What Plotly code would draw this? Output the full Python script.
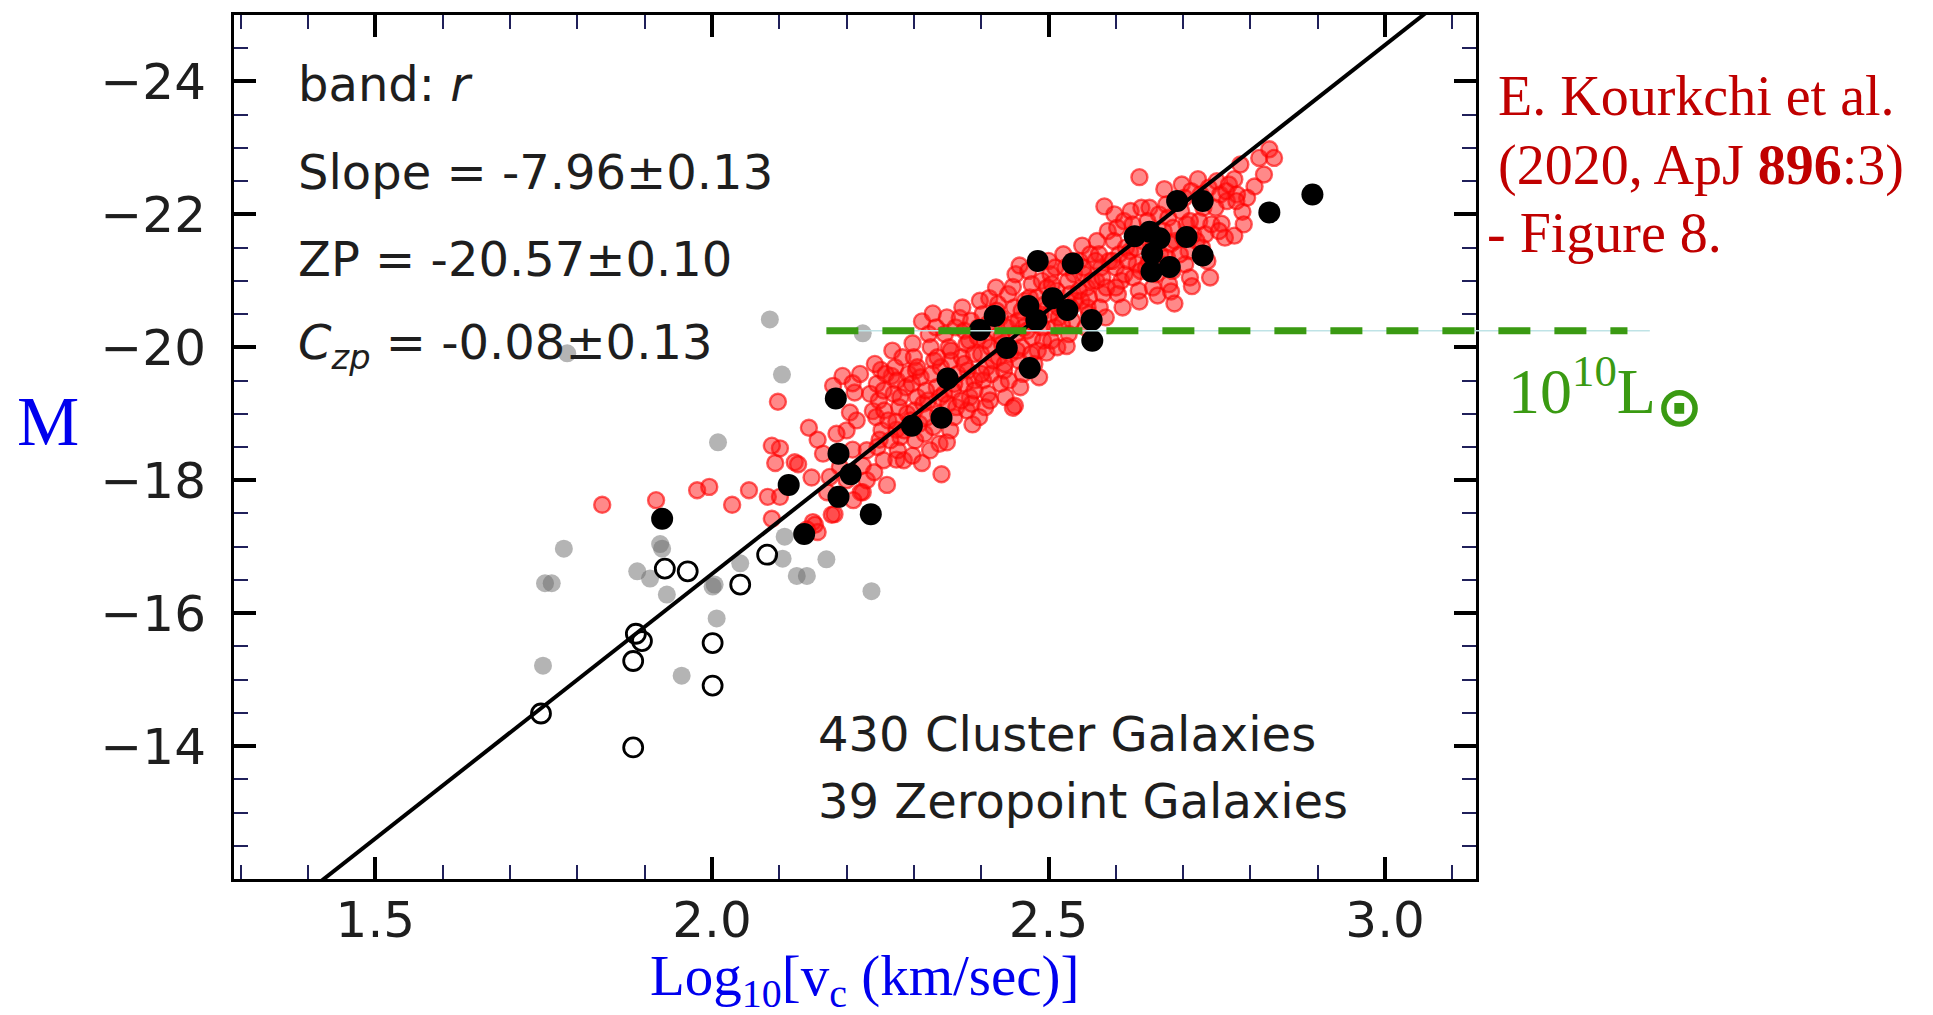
import plotly.graph_objects as go

# ---------------- data ----------------
X_RANGE = [1.29, 3.135]
Y_RANGE = [-12.0, -25.0]          # reversed magnitude axis
X_TICKS = [1.5, 2.0, 2.5, 3.0]
X_TICK_TEXT = ["1.5", "2.0", "2.5", "3.0"]
Y_TICKS = [-24, -22, -20, -18, -16, -14]

SLOPE = -7.96
ZP = -20.57
PIVOT = 2.5
M_1E10 = -20.25                    # 10^10 L_sun level
LUM_X = [2.17, 3.36]               # extent of the dashed reference line (data units)

# cluster galaxies (red)
red_pts = [
    (1.837, -17.63), (1.917, -17.70), (1.978, -17.85), (1.996, -17.90), (2.030, -17.63),
    (2.055, -17.85), (2.083, -17.75), (2.089, -17.42), (2.094, -18.26), (2.098, -19.18),
    (2.101, -18.48), (2.123, -18.27), (2.101, -17.75), (2.144, -18.79), (2.157, -18.61),
    (2.148, -18.04), (2.150, -17.37), (2.157, -17.22), (2.171, -17.82), (2.182, -17.49),
    (2.194, -19.57), (2.180, -19.42), (2.212, -19.32), (2.205, -19.02), (2.239, -19.04),
    (2.209, -18.46), (2.224, -18.22), (2.224, -17.82), (2.249, -18.61), (2.267, -19.57),
    (2.274, -18.76), (2.274, -18.31), (2.089, -18.52), (2.128, -18.24), (2.221, -17.82),
    (2.178, -17.48), (2.153, -17.33), (2.141, -17.26), (2.209, -19.46), (2.251, -19.66),
    (2.190, -18.20), (2.200, -18.00), (2.215, -18.90), (2.230, -18.45), (2.235, -19.30),
    (2.220, -19.60), (2.230, -18.00), (2.200, -18.75), (2.185, -18.70), (2.165, -18.40),
    (2.175, -18.05), (2.210, -17.70),
    (2.242, -19.75), (2.245, -19.45), (2.248, -19.20), (2.244, -18.95), (2.252, -18.75),
    (2.246, -18.50), (2.255, -18.30), (2.241, -18.12), (2.258, -19.60), (2.256, -19.05),
    (2.260, -17.93), (2.262, -18.90),
    (2.268, -19.95), (2.272, -19.70), (2.275, -19.50), (2.270, -19.30), (2.278, -19.10),
    (2.274, -18.88), (2.280, -18.65), (2.276, -18.45), (2.285, -18.30), (2.283, -19.85),
    (2.288, -19.40), (2.290, -19.00), (2.286, -18.75), (2.292, -19.60),
    (2.298, -20.06), (2.300, -19.85), (2.303, -19.65), (2.297, -19.45), (2.305, -19.25),
    (2.301, -19.05), (2.308, -18.85), (2.302, -18.60), (2.298, -18.37), (2.312, -20.39),
    (2.310, -19.55), (2.314, -19.15), (2.316, -18.70), (2.312, -18.26),
    (2.328, -20.51), (2.322, -20.20), (2.325, -20.00), (2.330, -19.80), (2.327, -19.60),
    (2.334, -19.40), (2.321, -19.20), (2.336, -19.00), (2.329, -18.80), (2.338, -18.55),
    (2.324, -18.45), (2.340, -19.70), (2.333, -20.30), (2.339, -19.25),
    (2.349, -20.45), (2.346, -20.20), (2.352, -20.00), (2.355, -19.80), (2.348, -19.55),
    (2.358, -19.35), (2.351, -19.15), (2.360, -18.95), (2.354, -18.75), (2.349, -18.57),
    (2.341, -18.09), (2.362, -20.30), (2.365, -19.60), (2.363, -19.10),
    (2.368, -20.44), (2.372, -20.60), (2.375, -20.25), (2.378, -20.05), (2.371, -19.85),
    (2.380, -19.65), (2.376, -19.45), (2.383, -19.25), (2.379, -19.05), (2.387, -18.84),
    (2.385, -20.40), (2.389, -19.90), (2.390, -19.50), (2.386, -19.15),
    (2.398, -20.70), (2.402, -20.50), (2.396, -20.30), (2.405, -20.10), (2.400, -19.90),
    (2.408, -19.70), (2.403, -19.50), (2.410, -19.30), (2.406, -19.10), (2.412, -20.74),
    (2.414, -20.00), (2.415, -19.60), (2.397, -18.95), (2.413, -19.20),
    (2.422, -20.90), (2.425, -20.65), (2.428, -20.45), (2.421, -20.25), (2.431, -20.05),
    (2.426, -19.85), (2.434, -19.65), (2.429, -19.45), (2.436, -19.25), (2.440, -20.80),
    (2.438, -20.30), (2.443, -19.90), (2.441, -19.50),
    (2.447, -20.91), (2.451, -21.10), (2.457, -21.23), (2.449, -20.60), (2.455, -20.40),
    (2.452, -20.20), (2.460, -20.00), (2.456, -19.80), (2.450, -19.12), (2.447, -19.09),
    (2.462, -19.60), (2.458, -19.40), (2.465, -20.70), (2.463, -20.30),
    (2.470, -21.15), (2.475, -20.95), (2.472, -20.75), (2.478, -20.55), (2.481, -20.35),
    (2.476, -20.15), (2.484, -19.95), (2.479, -19.75), (2.486, -19.55), (2.490, -21.00),
    (2.488, -20.50), (2.492, -20.10),
    (2.497, -19.92), (2.500, -21.30), (2.503, -21.10), (2.498, -20.90), (2.506, -20.70),
    (2.501, -20.50), (2.509, -20.30), (2.504, -20.10), (2.512, -20.85), (2.515, -20.45),
    (2.510, -21.20), (2.513, -20.00),
    (2.527, -20.02), (2.522, -21.40), (2.525, -21.20), (2.529, -21.00), (2.532, -20.80),
    (2.524, -20.60), (2.535, -20.40), (2.530, -20.20), (2.538, -21.10), (2.540, -20.70),
    (2.536, -21.30),
    (2.550, -21.53), (2.546, -21.30), (2.553, -21.10), (2.557, -20.90), (2.549, -20.70),
    (2.560, -20.50), (2.555, -20.30), (2.562, -21.40), (2.564, -21.00), (2.558, -20.60),
    (2.583, -22.12), (2.572, -21.60), (2.575, -21.40), (2.578, -21.20), (2.571, -21.00),
    (2.581, -20.80), (2.576, -20.60), (2.585, -20.45), (2.588, -21.75), (2.590, -21.30),
    (2.586, -20.90),
    (2.598, -22.00), (2.602, -21.80), (2.597, -21.60), (2.605, -21.40), (2.600, -21.20),
    (2.608, -21.00), (2.603, -20.80), (2.610, -20.60), (2.612, -21.90), (2.615, -21.50),
    (2.613, -21.10),
    (2.635, -22.56), (2.622, -22.05), (2.625, -21.85), (2.628, -21.65), (2.621, -21.45),
    (2.631, -21.25), (2.626, -21.05), (2.634, -20.85), (2.635, -20.69), (2.638, -22.10),
    (2.640, -21.60), (2.637, -21.15),
    (2.650, -22.10), (2.647, -21.90), (2.653, -21.70), (2.656, -21.50), (2.649, -21.30),
    (2.660, -21.10), (2.655, -20.90), (2.662, -20.78), (2.664, -22.00), (2.666, -21.40),
    (2.672, -22.38), (2.675, -22.15), (2.678, -21.95), (2.671, -21.75), (2.681, -21.55),
    (2.676, -21.35), (2.684, -21.15), (2.679, -20.95), (2.682, -20.84), (2.687, -20.66),
    (2.690, -22.20), (2.688, -21.60),
    (2.698, -22.45), (2.702, -22.25), (2.697, -22.05), (2.705, -21.85), (2.700, -21.65),
    (2.708, -21.45), (2.703, -21.25), (2.710, -21.05), (2.713, -20.92), (2.712, -22.35),
    (2.715, -21.70),
    (2.722, -22.53), (2.726, -22.30), (2.730, -22.10), (2.724, -21.90), (2.733, -21.70),
    (2.728, -21.50), (2.736, -21.30), (2.740, -21.05), (2.738, -22.40), (2.742, -21.85),
    (2.757, -21.86), (2.750, -22.50), (2.755, -22.30), (2.748, -22.10), (2.762, -21.65),
    (2.765, -22.20), (2.764, -22.35), (2.768, -22.45), (2.753, -21.75),
    (2.776, -22.53), (2.806, -22.42), (2.788, -22.04), (2.776, -21.68), (2.785, -22.75),
    (2.795, -22.25), (2.780, -22.30), (2.790, -21.85), (2.779, -22.20),
    (2.813, -22.85), (2.828, -22.98), (2.820, -22.60), (2.835, -22.85),
    # dense core
    (2.255, -19.35), (2.265, -18.60), (2.280, -19.25), (2.295, -18.90), (2.305, -19.70),
    (2.318, -19.35), (2.320, -18.95), (2.335, -19.85), (2.345, -19.30), (2.355, -19.95),
    (2.360, -19.45), (2.370, -19.20), (2.375, -19.75), (2.382, -20.10), (2.390, -19.35),
    (2.395, -20.15), (2.400, -19.60), (2.410, -20.35), (2.418, -19.80), (2.423, -20.55),
    (2.430, -20.15), (2.435, -19.75), (2.445, -20.35), (2.453, -19.95), (2.460, -20.55),
    (2.468, -20.25), (2.474, -19.90), (2.483, -20.75), (2.490, -20.30), (2.495, -20.65),
    (2.505, -20.95), (2.515, -20.60), (2.520, -20.35), (2.533, -20.60), (2.545, -20.85),
    (2.552, -21.20), (2.560, -20.75), (2.570, -21.30), (2.580, -21.05), (2.595, -21.30),
    (2.600, -20.90), (2.618, -21.30), (2.630, -21.50), (2.645, -21.20), (2.655, -21.60),
    (2.668, -21.25), (2.685, -21.80), (2.695, -21.40), (2.710, -21.90), (2.720, -21.60),
]

# zeropoint galaxies (filled black)
black_pts = [
    (1.926, -17.42), (2.184, -19.23), (2.188, -18.40), (2.206, -18.09), (2.114, -17.93),
    (2.188, -17.75), (2.236, -17.49), (2.137, -17.19),
    (2.484, -21.30), (2.536, -21.26), (2.420, -20.47), (2.398, -20.26), (2.470, -20.62),
    (2.506, -20.74), (2.528, -20.56), (2.482, -20.41), (2.438, -19.99), (2.472, -19.69),
    (2.350, -19.53), (2.341, -18.94), (2.297, -18.82),
    (2.564, -20.41), (2.565, -20.10), (2.628, -21.67), (2.650, -21.74), (2.665, -21.64),
    (2.654, -21.41), (2.653, -21.14), (2.680, -21.21), (2.705, -21.66), (2.729, -21.38),
    (2.691, -22.20), (2.729, -22.20),
    (2.828, -22.03), (2.892, -22.30),
]

# zeropoint galaxies (open black)
open_pts = [
    (1.930, -16.67), (1.964, -16.63), (1.887, -15.69), (1.896, -15.58), (1.883, -15.28),
    (1.746, -14.49), (1.883, -13.98), (2.001, -15.55), (2.001, -14.91), (2.082, -16.88),
    (2.042, -16.43),
]

# excluded galaxies (grey)
grey_pts = [
    (1.785, -19.91), (2.009, -18.57), (2.086, -20.42), (2.104, -19.59), (2.224, -20.21),
    (2.108, -17.15), (2.105, -16.82), (2.042, -16.75), (2.004, -16.43), (2.170, -16.81),
    (2.126, -16.56), (2.141, -16.56), (2.237, -16.33), (1.780, -16.97), (1.752, -16.45),
    (1.762, -16.45), (1.923, -17.04), (1.926, -16.97), (1.889, -16.63), (1.908, -16.52),
    (1.933, -16.28), (2.001, -16.40), (2.007, -15.92), (1.749, -15.21), (1.955, -15.06),
]

# ---------------- figure ----------------
def xs(pts):
    return [p[0] for p in pts]


def ys(pts):
    return [p[1] for p in pts]


fig = go.Figure()

fig.add_trace(go.Scatter(
    x=xs(grey_pts), y=ys(grey_pts), mode="markers", showlegend=False,
    marker=dict(size=18, color="rgba(105,105,105,0.5)", line=dict(width=0)),
))
fig.add_trace(go.Scatter(
    x=xs(red_pts), y=ys(red_pts), mode="markers", showlegend=False,
    marker=dict(size=16, color="rgba(255,20,20,0.5)",
                line=dict(width=2.4, color="rgba(255,0,0,0.62)")),
))

fit_x = list(X_RANGE)
fit_y = [ZP + SLOPE * (v - PIVOT) for v in fit_x]
fig.add_trace(go.Scatter(
    x=fit_x, y=fit_y, mode="lines", showlegend=False,
    line=dict(color="black", width=4),
))
fig.add_trace(go.Scatter(
    x=xs(black_pts), y=ys(black_pts), mode="markers", showlegend=False,
    marker=dict(size=22, color="black", line=dict(width=0)),
))
fig.add_trace(go.Scatter(
    x=xs(open_pts), y=ys(open_pts), mode="markers", showlegend=False,
    marker=dict(size=19, color="rgba(0,0,0,0)", line=dict(width=2.8, color="black")),
))

# reference line for 10^10 L_sun (extends past the axes box, so use paper coords)
def xpaper(v):
    return (v - X_RANGE[0]) / (X_RANGE[1] - X_RANGE[0])


def ypaper(v):
    return (v - Y_RANGE[0]) / (Y_RANGE[1] - Y_RANGE[0])


yp = ypaper(M_1E10)
fig.add_shape(type="line", xref="paper", yref="paper",
              x0=xpaper(LUM_X[0]), x1=xpaper(LUM_X[1]) + 0.018, y0=yp, y1=yp,
              line=dict(color="#bfe3e6", width=1.5), layer="above")
fig.add_shape(type="line", xref="paper", yref="paper",
              x0=xpaper(LUM_X[0]), x1=xpaper(LUM_X[1]), y0=yp, y1=yp,
              line=dict(color="#3a9a12", width=7, dash="32px,24px"), layer="above")

TXT = dict(family="DejaVu Sans", size=48, color="#1e1e1e")
RED = dict(family="Liberation Serif", size=56, color="#c00000")

annos = [
    dict(text="band: <i>r</i>", x=0.050, y=0.92, font=TXT),
    dict(text="Slope = -7.96±0.13", x=0.050, y=0.818, font=TXT),
    dict(text="ZP = -20.57±0.10", x=0.050, y=0.718, font=TXT),
    dict(text="<i>C</i><sub><i>zp</i></sub> = -0.08±0.13", x=0.050, y=0.618, font=TXT),
    dict(text="430 Cluster Galaxies", x=0.469, y=0.168, font=TXT),
    dict(text="39 Zeropoint Galaxies", x=0.469, y=0.090, font=TXT),
    dict(text="E. Kourkchi et al.", x=1.0165, y=0.906, font=RED),
    dict(text="(2020, ApJ <b>896</b>:3)", x=1.0165, y=0.826, font=RED),
    dict(text="- Figure 8.", x=1.007, y=0.748, font=RED),
    dict(text="10<sup>10</sup>L<sub><span style=\"font-family:'DejaVu Sans';"
              "font-size:56px;font-weight:bold\">⊙</span></sub>",
         x=1.024, y=0.563,
         font=dict(family="Liberation Serif", size=64, color="#3a9a12")),
]
for a in annos:
    fig.add_annotation(xref="paper", yref="paper", xanchor="left", yanchor="middle",
                       showarrow=False, **a)

fig.add_annotation(text="M", xref="paper", yref="paper", x=-0.150, y=0.529,
                   xanchor="center", yanchor="middle", showarrow=False,
                   font=dict(family="Liberation Serif", size=70, color="#0000ee"))
fig.add_annotation(text="Log<sub>10</sub>[v<sub>c</sub> (km/sec)]", xref="paper", yref="paper",
                   x=0.508, y=-0.117, xanchor="center", yanchor="middle", showarrow=False,
                   font=dict(family="Liberation Serif", size=57, color="#0000ee"))

axis_common = dict(
    showline=True, linecolor="black", linewidth=3, mirror="ticks",
    ticks="inside", ticklen=22, tickwidth=3.5, tickcolor="black",
    showgrid=False, zeroline=False,
    tickfont=dict(family="DejaVu Sans", size=50, color="#1e1e1e"),
)

fig.update_xaxes(range=X_RANGE, tickmode="array", tickvals=X_TICKS, ticktext=X_TICK_TEXT,
                 ticklabelstandoff=-5,
                 minor=dict(tickmode="linear", tick0=0, dtick=0.1, ticks="inside",
                            ticklen=14, tickwidth=2.2, tickcolor="#20205a"),
                 **axis_common)
fig.update_yaxes(range=Y_RANGE, tickmode="array", tickvals=Y_TICKS,
                 ticklabelstandoff=15,
                 minor=dict(tickmode="linear", tick0=0, dtick=0.5, ticks="inside",
                            ticklen=14, tickwidth=2.2, tickcolor="#20205a"),
                 **axis_common)

fig.update_layout(
    width=1933, height=1015,
    margin=dict(l=234, r=457, t=12, b=136),
    paper_bgcolor="white", plot_bgcolor="white",
    showlegend=False,
)

fig.write_html("out.html",
               config={"displayModeBar": False},
               post_script="document.body.style.margin='0px';"
                           "document.body.style.overflow='hidden';")
